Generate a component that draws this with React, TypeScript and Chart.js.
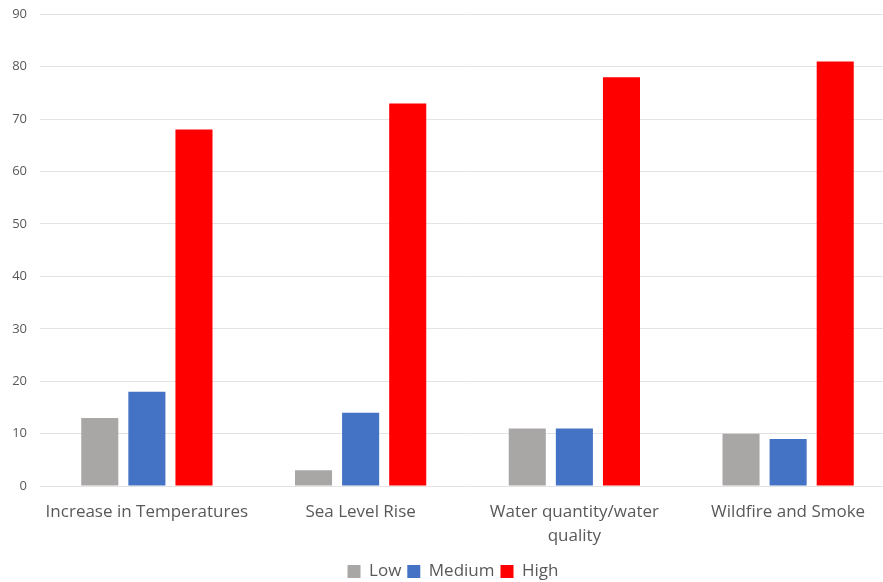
import React, { useEffect, useRef } from "react";
import { Chart, registerables } from "chart.js";

Chart.register(...registerables);

const categories: (string | string[])[] = [
  "Increase in Temperatures",
  "Sea Level Rise",
  ["Water quantity/water", "quality"],
  "Wildfire and Smoke",
];
const lowValues = [13, 3, 11, 10];
const mediumValues = [18, 14, 11, 9];
const highValues = [68, 73, 78, 81];

const FONT = "'Open Sans', 'Liberation Sans', sans-serif";

export default function App() {
  const ref = useRef<HTMLCanvasElement | null>(null);
  useEffect(() => {
    document.body.style.margin = "0";
    if (!ref.current) return;
    const chart = new Chart(ref.current, {
      type: "bar",
      data: {
        labels: categories,
        datasets: [
          { label: "Low", data: lowValues, backgroundColor: "#A9A6A6" },
          { label: "Medium", data: mediumValues, backgroundColor: "#4472C4" },
          { label: "High", data: highValues, backgroundColor: "#FF0000" },
        ],
      },
      options: {
        animation: false,
        responsive: false,
        maintainAspectRatio: false,
        datasets: { bar: { categoryPercentage: 0.661, barPercentage: 0.787 } },
        layout: { padding: { top: 0, right: 0, left: 11, bottom: -8 } },
        plugins: {
          tooltip: { enabled: false },
          legend: {
            position: "bottom",
            labels: {
              boxWidth: 13,
              boxHeight: 13,
              padding: 6,
              color: "#595959",
              font: { family: FONT, size: 17 },
            },
          },
        },
        scales: {
          x: {
            grid: { display: false },
            border: { display: false },
            afterFit: (scale: any) => {
              scale.height = scale.height + 3;
            },
            ticks: {
              color: "#595959",
              padding: 6,
              maxRotation: 0,
              autoSkip: false,
              font: { family: FONT, size: 17, lineHeight: 1.41 },
            },
          },
          y: {
            min: 0,
            max: 90,
            afterFit: (scale: any) => {
              scale.width = 29;
            },
            ticks: {
              stepSize: 10,
              color: "#595959",
              padding: 13,
              font: { family: FONT, size: 13, lineHeight: 0.2 },
            },
            grid: { color: "#E3E3E3", lineWidth: 1, drawTicks: false },
            border: { display: false },
          },
        },
      },
    });
    return () => chart.destroy();
  }, []);
  return (
    <div style={{ position: "absolute", left: 0, top: 0, width: 883, height: 582, overflow: "hidden" }}>
      <canvas ref={ref} width={895} height={582} />
    </div>
  );
}
